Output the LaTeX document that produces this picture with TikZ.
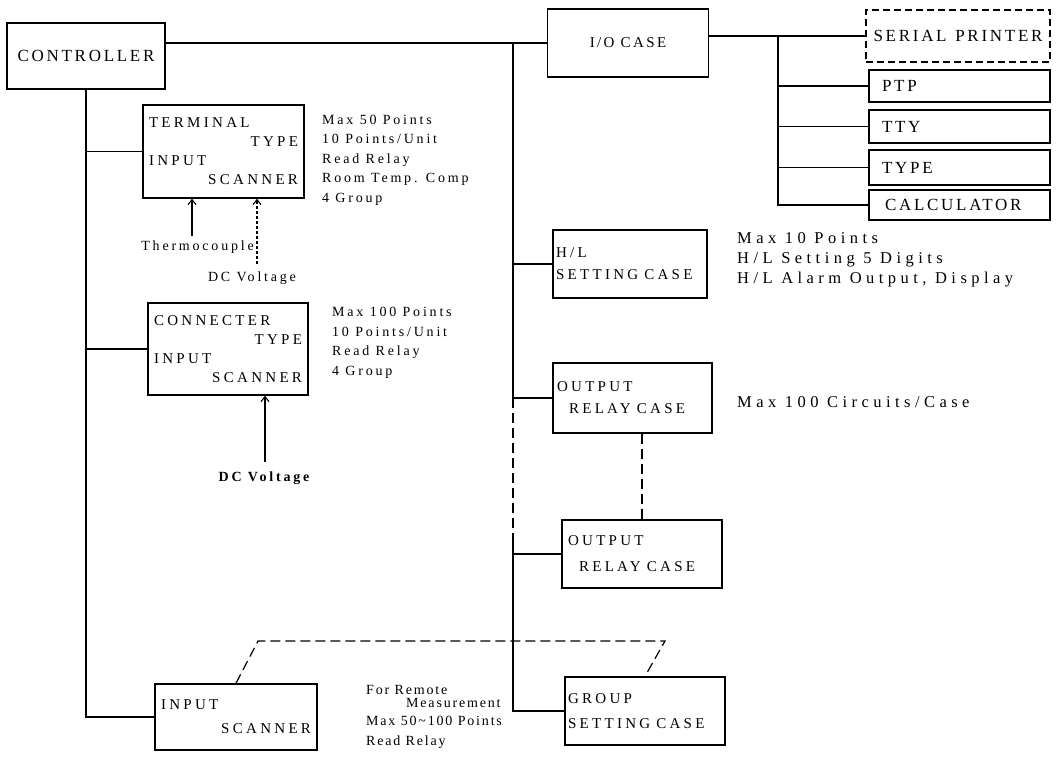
\documentclass[tikz,border=0pt]{standalone}
\usepackage{fontspec}
\setmainfont{Liberation Serif}
\newfontfamily\lblfont[LetterSpace=16]{Liberation Serif}
\newfontfamily\lblsfont[LetterSpace=22]{Liberation Serif}
\newfontfamily\notefont[LetterSpace=20]{Liberation Serif}
\newfontfamily\notenfont[LetterSpace=13]{Liberation Serif}
\newfontfamily\notewfont[LetterSpace=27]{Liberation Serif}
\newcommand{\wsp}{\hspace{6pt}}
\usetikzlibrary{arrows.meta,calc}
\begin{document}
\begin{tikzpicture}[x=1pt,y=-1pt,
  box/.style={draw, line width=1.5pt, inner ysep=0pt, inner xsep=6pt, align=left, font={\lblsfont\fontsize{15}{19}\selectfont}},
  bigbox/.style={draw, line width=1.5pt, inner sep=0pt, align=center, font={\lblfont\fontsize{17}{20}\selectfont}},
  rbox/.style={draw, line width=1.4pt, inner ysep=0pt, inner xsep=13pt, text width=155pt, align=left, font={\lblfont\fontsize{17}{19}\selectfont}},
  note/.style={inner sep=0pt, align=left, anchor=west, font={\notefont\fontsize{14}{19.5}\selectfont}},
  wire/.style={line width=1.2pt},
  dwire/.style={line width=1.2pt, dash pattern=on 10pt off 5pt},
  arr/.style={line width=1.1pt, -{Straight Barb[length=5pt,width=8pt]}}
]
\fill[white] (0,0) rectangle (1064,767);
\useasboundingbox (0,0) rectangle (1064,767);

% left column
\node[bigbox, minimum width=158pt, minimum height=66pt] (ctrl) at (86,56) {CONTROLLER};
\node[box, minimum height=93pt, text width=149pt] (term) at (223.5,151.5)
  {TERMINAL\\\hspace*{\fill}TYPE\\INPUT\\\hspace*{\fill}SCANNER};
\node[box, minimum height=92pt, text width=148pt] (con) at (228,349)
  {CONNECTER\\\hspace*{\fill}TYPE\\INPUT\\\hspace*{\fill}SCANNER};
\node[box, minimum height=66pt, text width=150pt, font={\lblsfont\fontsize{15}{24}\selectfont}] (inscan) at (236,717)
  {INPUT\\\hspace*{\fill}SCANNER};

% middle column
\node[bigbox, minimum width=161pt, minimum height=68pt, font={\lblfont\fontsize{15}{18}\selectfont}] (io) at (628,43) {I/O CASE};
\node[box, minimum height=68pt, text width=148pt, inner xsep=3pt, font={\lblsfont\fontsize{15}{22}\selectfont}] (hl) at (630,264)
  {H/L\\SETTING\wsp CASE};
\node[box, minimum height=70pt, text width=151pt, inner xsep=4pt, font={\lblsfont\fontsize{15}{22}\selectfont}] (or1) at (632.5,398)
  {OUTPUT\\\hspace*{12pt}RELAY\wsp CASE};
\node[box, minimum height=68pt, text width=148pt, font={\lblsfont\fontsize{15}{26}\selectfont}] (or2) at (642,554)
  {OUTPUT\\\hspace*{11pt}RELAY\wsp CASE};
\node[box, minimum height=68pt, text width=154pt, inner xsep=3pt, font={\lblsfont\fontsize{15}{25}\selectfont}] (gs) at (645,711)
  {GROUP\\SETTING\wsp CASE};

% right column
\node[rbox, minimum width=184pt, minimum height=52pt, text width=180pt, inner xsep=2pt, align=center, dash pattern=on 7pt off 4pt] (serial) at (958,36) {SERIAL\hspace{3pt} PRINTER};
\node[rbox, minimum height=32pt] (ptp) at (959.5,86) {PTP};
\node[rbox, minimum height=33pt] (tty) at (959.5,126.5) {TTY};
\node[rbox, minimum height=35pt] (type) at (959.5,167.5) {TYPE};
\node[rbox, minimum height=30pt, inner xsep=16pt, text width=149pt] (calc) at (959.5,205) {CALCULATOR};

% notes
\node[note] (n1) at (322,160) {Max 50 Points\\10 Points/Unit\\Read Relay\\Room Temp. Comp\\4 Group};
\node[note] (n2) at (332,343) {Max 100 Points\\10 Points/Unit\\Read Relay\\4 Group};
\node[note, font={\notewfont\fontsize{16.5}{20}\selectfont}] (n3) at (737,260) {Max 10 Points\\H/L Setting 5 Digits\\H/L Alarm Output, Display};
\node[note, font={\notewfont\fontsize{16.5}{20}\selectfont}] (n4) at (737,402) {Max 100 Circuits/Case};
\node[note, anchor=north west, font={\notenfont\fontsize{14}{18}\selectfont}] (n5) at (366,685)
  {For Remote\\[-5pt]\hspace*{40pt}Measurement\\Max 50\textasciitilde100 Points\\[2pt]Read Relay};
\node[note, anchor=east] (thermo) at (254,247) {Thermocouple};
\node[note, anchor=center] (dcv1) at (252,278) {DC Voltage};
\node[note, anchor=center, font={\notefont\bfseries\fontsize{14}{18}\selectfont}] (dcv2) at (264,478) {DC Voltage};

% main connectors
\draw[wire] (ctrl.east |- io.west) -- (io.west);
\draw[wire] (ctrl.south) |- (inscan.west);
\draw[wire] (term.west) -- (term.west -| ctrl.south);
\draw[wire] (con.west) -- (con.west -| ctrl.south);

\coordinate (rb) at (513,43);
\coordinate (rbd) at (513,543);
\draw[wire] (rb) |- (hl.west);
\draw[wire] (rb) |- (or1.west);
\draw[dwire] (rb |- or1.west) -- (rbd);
\draw[wire] (rbd) |- (gs.west);
\draw[wire] (rbd |- or2.west) -- (or2.west);
\draw[dwire] (or1.south -| or2.north) -- (or2.north);

\coordinate (d1) at (258,641);
\coordinate (d2) at (665,641);
\draw[dwire] (inscan.north) -- (d1) -- (d2) -- (gs.north);

% right bus
\draw[wire] (io.east |- serial.west) -- (serial.west);
\coordinate (sb) at (778,36);
\draw[wire] (sb) |- (calc.west);
\draw[wire] (sb |- ptp.west) -- (ptp.west);
\draw[wire] (sb |- tty.west) -- (tty.west);
\draw[wire] (sb |- type.west) -- (type.west);

% input arrows
\coordinate (tc) at (192,236);
\draw[arr] (tc) -- (tc |- term.south);
\coordinate (dv) at (257,264);
\draw[arr, dash pattern=on 3pt off 2pt] (dv) -- (dv |- term.south);
\coordinate (cv) at (265,462);
\draw[arr] (cv) -- (cv |- con.south);
\end{tikzpicture}
\end{document}
